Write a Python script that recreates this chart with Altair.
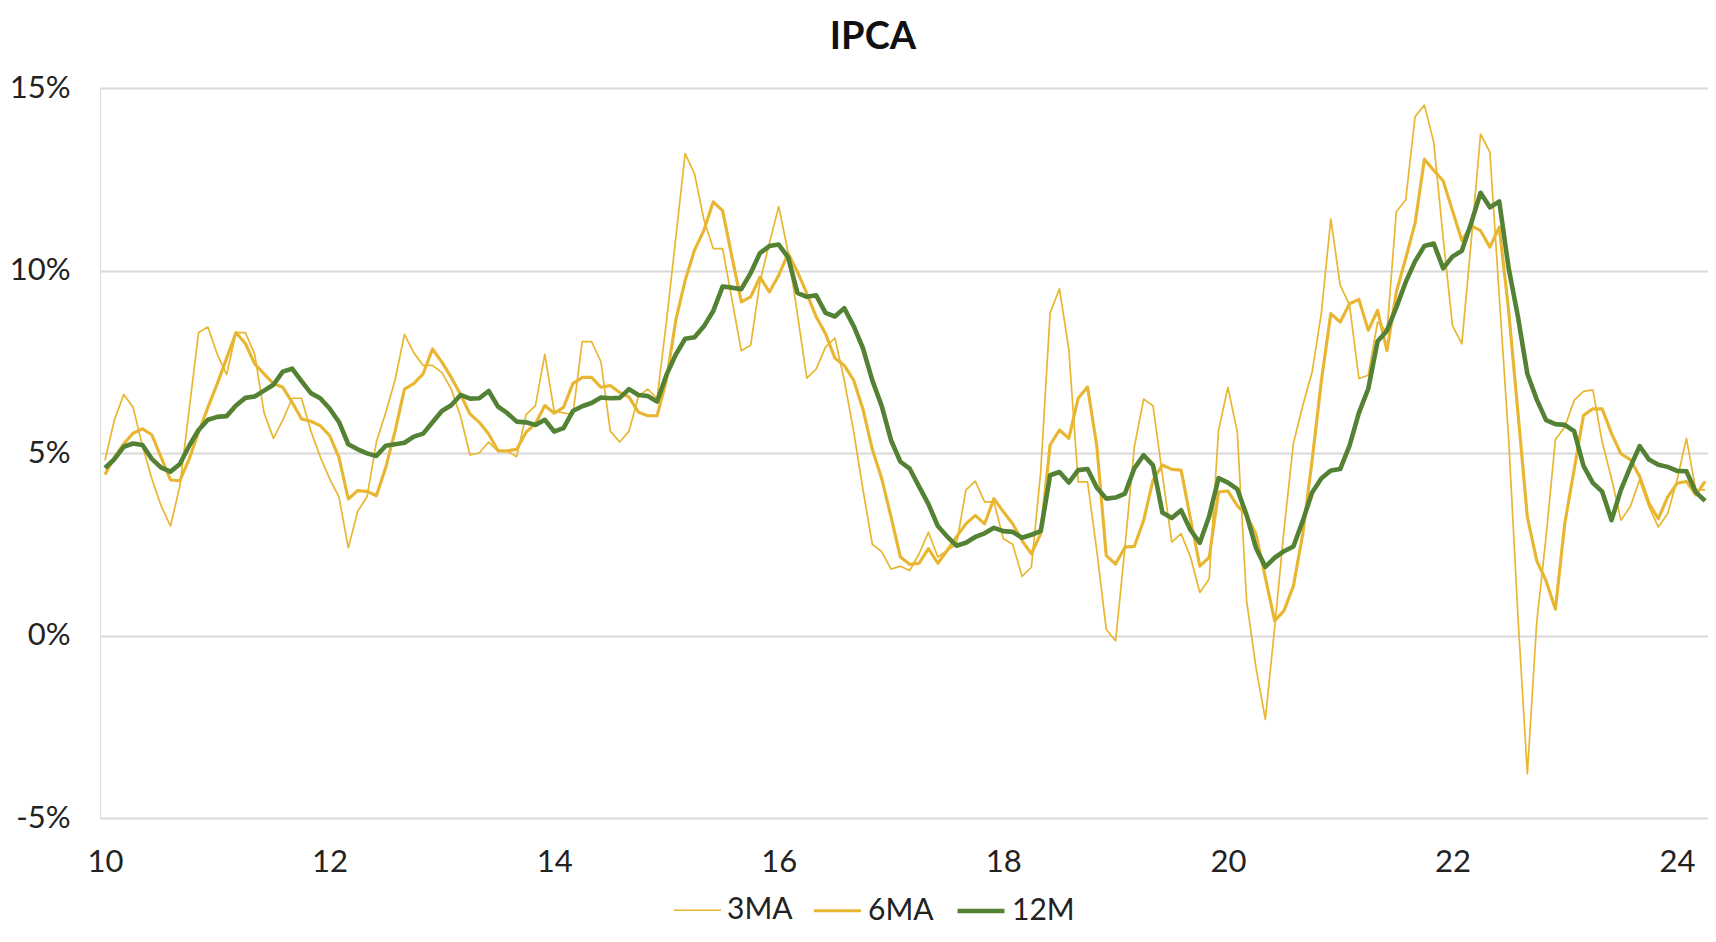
import altair as alt
import pandas as pd

START_YEAR = 2010
SERIES = ["3MA", "6MA", "12M"]

# 3-month moving average, annualised (%), Jan 2010 .. Apr 2024
ma3 = [
    4.8, 5.9, 6.6, 6.25, 5.2, 4.3, 3.55, 3.0, 4.1, 6.2, 8.3, 8.45,          # 2010
    7.7, 7.15, 8.3, 8.3, 7.7, 6.1, 5.4, 5.9, 6.5, 6.5, 5.6, 4.9,            # 2011
    4.3, 3.8, 2.4, 3.4, 3.8, 5.3, 6.1, 7.0, 8.25, 7.75, 7.4, 7.4,           # 2012
    7.2, 6.75, 6.0, 4.95, 5.0, 5.3, 5.05, 5.05, 4.9, 6.05, 6.3, 7.7,        # 2013
    6.15, 6.1, 6.05, 8.05, 8.05, 7.5, 5.6, 5.3, 5.6, 6.55, 6.75, 6.5,       # 2014
    8.6, 10.9, 13.2, 12.65, 11.4, 10.6, 10.6, 9.2, 7.8, 7.95, 9.7, 10.75,   # 2015
    11.75, 10.5, 8.8, 7.05, 7.3, 7.9, 8.15, 7.0, 5.6, 4.0, 2.5, 2.3,        # 2016
    1.82, 1.9, 1.78, 2.24, 2.83, 2.15, 2.33, 2.5, 3.98, 4.23, 3.66, 3.66,   # 2017
    2.65, 2.5, 1.62, 1.87, 4.5, 8.84, 9.5, 7.83, 4.21, 4.21, 2.3, 0.17,     # 2018
    -0.15, 2.42, 5.17, 6.48, 6.29, 4.4, 2.56, 2.79, 2.15, 1.18, 1.55, 5.62, # 2019
    6.8, 5.58, 0.95, -0.88, -2.3, 0.22, 2.9, 5.26, 6.3, 7.22, 8.86, 11.41,  # 2020
    9.6, 9.05, 7.04, 7.13, 8.59, 8.32, 11.61, 11.93, 14.21, 14.53, 13.51, 10.9,  # 2021
    8.49, 7.99, 10.8, 13.74, 13.24, 9.3, 5.4, 0.5, -3.79, 0.35, 2.7, 5.37,  # 2022
    5.71, 6.44, 6.69, 6.73, 5.3, 4.3, 3.16, 3.53, 4.26, 3.53, 2.97, 3.34,   # 2023
    4.26, 5.4, 3.99, 3.99,                                                  # 2024
]

# 6-month moving average, annualised (%)
ma6 = [
    4.41, 4.88, 5.25, 5.54, 5.66, 5.5, 4.88, 4.26, 4.24, 4.84, 5.57, 6.25,
    6.9, 7.6, 8.3, 8.0, 7.44, 7.17, 6.9, 6.8, 6.39, 5.93, 5.87, 5.75,
    5.48, 4.88, 3.74, 3.97, 3.95, 3.83, 4.6, 5.6, 6.75, 6.9, 7.17, 7.85,
    7.49, 7.07, 6.6, 6.07, 5.84, 5.52, 5.06, 5.06, 5.1, 5.57, 5.8, 6.3,
    6.09, 6.25, 6.9, 7.07, 7.07, 6.8, 6.85, 6.66, 6.53, 6.12, 6.02, 6.02,
    7.0, 8.64, 9.73, 10.56, 11.1, 11.88, 11.64, 10.37, 9.14, 9.28, 9.82, 9.41,
    9.87, 10.47, 9.96, 9.37, 8.73, 8.27, 7.6, 7.4, 7.0, 6.2, 5.1, 4.3,
    3.25, 2.15, 1.95, 1.98, 2.38, 1.98, 2.33, 2.7, 3.06, 3.29, 3.06, 3.75,
    3.39, 3.06, 2.6, 2.24, 2.79, 5.22, 5.63, 5.4, 6.5, 6.81, 5.17, 2.19,
    1.96, 2.42, 2.44, 3.16, 4.26, 4.67, 4.55, 4.53, 3.2, 1.9, 2.14, 3.93,
    3.96, 3.56, 3.29, 2.78, 1.59, 0.4, 0.68, 1.36, 2.78, 4.8, 7.0, 8.82,
    8.59, 9.09, 9.21, 8.36, 8.91, 7.81, 9.41, 10.33, 11.29, 13.05, 12.74, 12.46,
    11.64, 10.82, 11.23, 11.09, 10.64, 11.19, 8.9, 6.1, 3.25, 2.05, 1.5, 0.72,
    3.07, 4.54, 6.03, 6.21, 6.21, 5.53, 4.98, 4.82, 4.36, 3.62, 3.2, 3.8,
    4.17, 4.22, 3.85, 4.22,
]

# 12-month accumulated (%)
m12 = [
    4.59, 4.83, 5.17, 5.26, 5.22, 4.84, 4.60, 4.49, 4.70, 5.20, 5.63, 5.91,
    5.99, 6.01, 6.30, 6.51, 6.55, 6.71, 6.87, 7.23, 7.31, 6.97, 6.64, 6.50,
    6.22, 5.85, 5.24, 5.10, 4.99, 4.92, 5.20, 5.24, 5.28, 5.45, 5.53, 5.84,
    6.15, 6.31, 6.59, 6.49, 6.50, 6.70, 6.27, 6.09, 5.86, 5.84, 5.77, 5.91,
    5.59, 5.68, 6.15, 6.28, 6.37, 6.52, 6.50, 6.51, 6.75, 6.59, 6.56, 6.41,
    7.14, 7.70, 8.13, 8.17, 8.47, 8.89, 9.56, 9.53, 9.49, 9.93, 10.48, 10.67,
    10.71, 10.36, 9.39, 9.28, 9.32, 8.84, 8.74, 8.97, 8.48, 7.87, 6.99, 6.29,
    5.35, 4.76, 4.57, 4.08, 3.60, 3.00, 2.71, 2.46, 2.54, 2.70, 2.80, 2.95,
    2.86, 2.84, 2.68, 2.76, 2.86, 4.39, 4.48, 4.19, 4.53, 4.56, 4.05, 3.75,
    3.78, 3.89, 4.58, 4.94, 4.66, 3.37, 3.22, 3.43, 2.89, 2.54, 3.27, 4.31,
    4.19, 4.01, 3.30, 2.40, 1.88, 2.13, 2.31, 2.44, 3.14, 3.92, 4.31, 4.52,
    4.56, 5.20, 6.10, 6.76, 8.06, 8.35, 8.99, 9.68, 10.25, 10.67, 10.74, 10.06,
    10.38, 10.54, 11.30, 12.13, 11.73, 11.89, 10.07, 8.73, 7.17, 6.47, 5.90, 5.79,
    5.77, 5.60, 4.65, 4.18, 3.94, 3.16, 3.99, 4.61, 5.19, 4.82, 4.68, 4.62,
    4.51, 4.50, 3.93, 3.69,
]

YEAR_TICKS = [2010, 2012, 2014, 2016, 2018, 2020, 2022, 2024]
PCT_TICKS = [-5, 0, 5, 10, 15]

YELLOW = "#E8B630"
GREEN = "#548235"
FONT = "Lato"
TXT = "#222222"

rows = []
for name, vals in zip(SERIES, [ma3, ma6, m12]):
    for i, v in enumerate(vals):
        rows.append({"series": name, "t": START_YEAR + i / 12.0, "v": v})
df = pd.DataFrame(rows)

legend = alt.Legend(
    title=None,
    orient="none",
    legendX=573,
    legendY=797,
    direction="horizontal",
    symbolType="stroke",
    symbolSize=2200,
    labelFont=FONT,
    labelFontSize=30,
    labelColor=TXT,
    labelOffset=5,
    columnPadding=14,
)

chart = (
    alt.Chart(df)
    .mark_line(strokeJoin="round")
    .encode(
        x=alt.X(
            "t:Q",
            scale=alt.Scale(domain=[2009.9555, 2024.2756], nice=False, zero=False),
            axis=alt.Axis(
                values=YEAR_TICKS,
                labelExpr="'' + (datum.value % 100)",
                title=None,
                grid=False,
                domain=False,
                ticks=False,
                tickSize=0,
                labelFont=FONT,
                labelFontSize=31,
                labelColor=TXT,
                labelPadding=29,
            ),
        ),
        y=alt.Y(
            "v:Q",
            scale=alt.Scale(domain=[-5, 15], nice=False, zero=False),
            axis=alt.Axis(
                values=PCT_TICKS,
                labelExpr="datum.value + '%'",
                title=None,
                grid=True,
                gridColor="#D9D9D9",
                gridWidth=1.8,
                domain=False,
                ticks=False,
                tickSize=0,
                labelFont=FONT,
                labelFontSize=31,
                labelColor=TXT,
                labelPadding=30,
            ),
        ),
        color=alt.Color(
            "series:N",
            scale=alt.Scale(domain=SERIES, range=[YELLOW, YELLOW, GREEN]),
            legend=legend,
        ),
        strokeWidth=alt.StrokeWidth(
            "series:N",
            scale=alt.Scale(domain=SERIES, range=[1.7, 4.6, 5.0]),
            legend=legend,
        ),
    )
    .properties(
        width=1608,
        height=730,
        title=alt.TitleParams(
            "IPCA",
            font=FONT,
            fontSize=38,
            fontWeight="bold",
            color="#111111",
            anchor="middle",
            offset=15,
            dx=-31,
        ),
        autosize=alt.AutoSizeParams(type="none"),
        padding={"left": 92, "top": 80, "right": 0, "bottom": 114},
    )
    .configure_view(stroke=None)
    .configure(background="white")
)

chart.save("out.html", embed_options={"renderer": "svg", "actions": False})
